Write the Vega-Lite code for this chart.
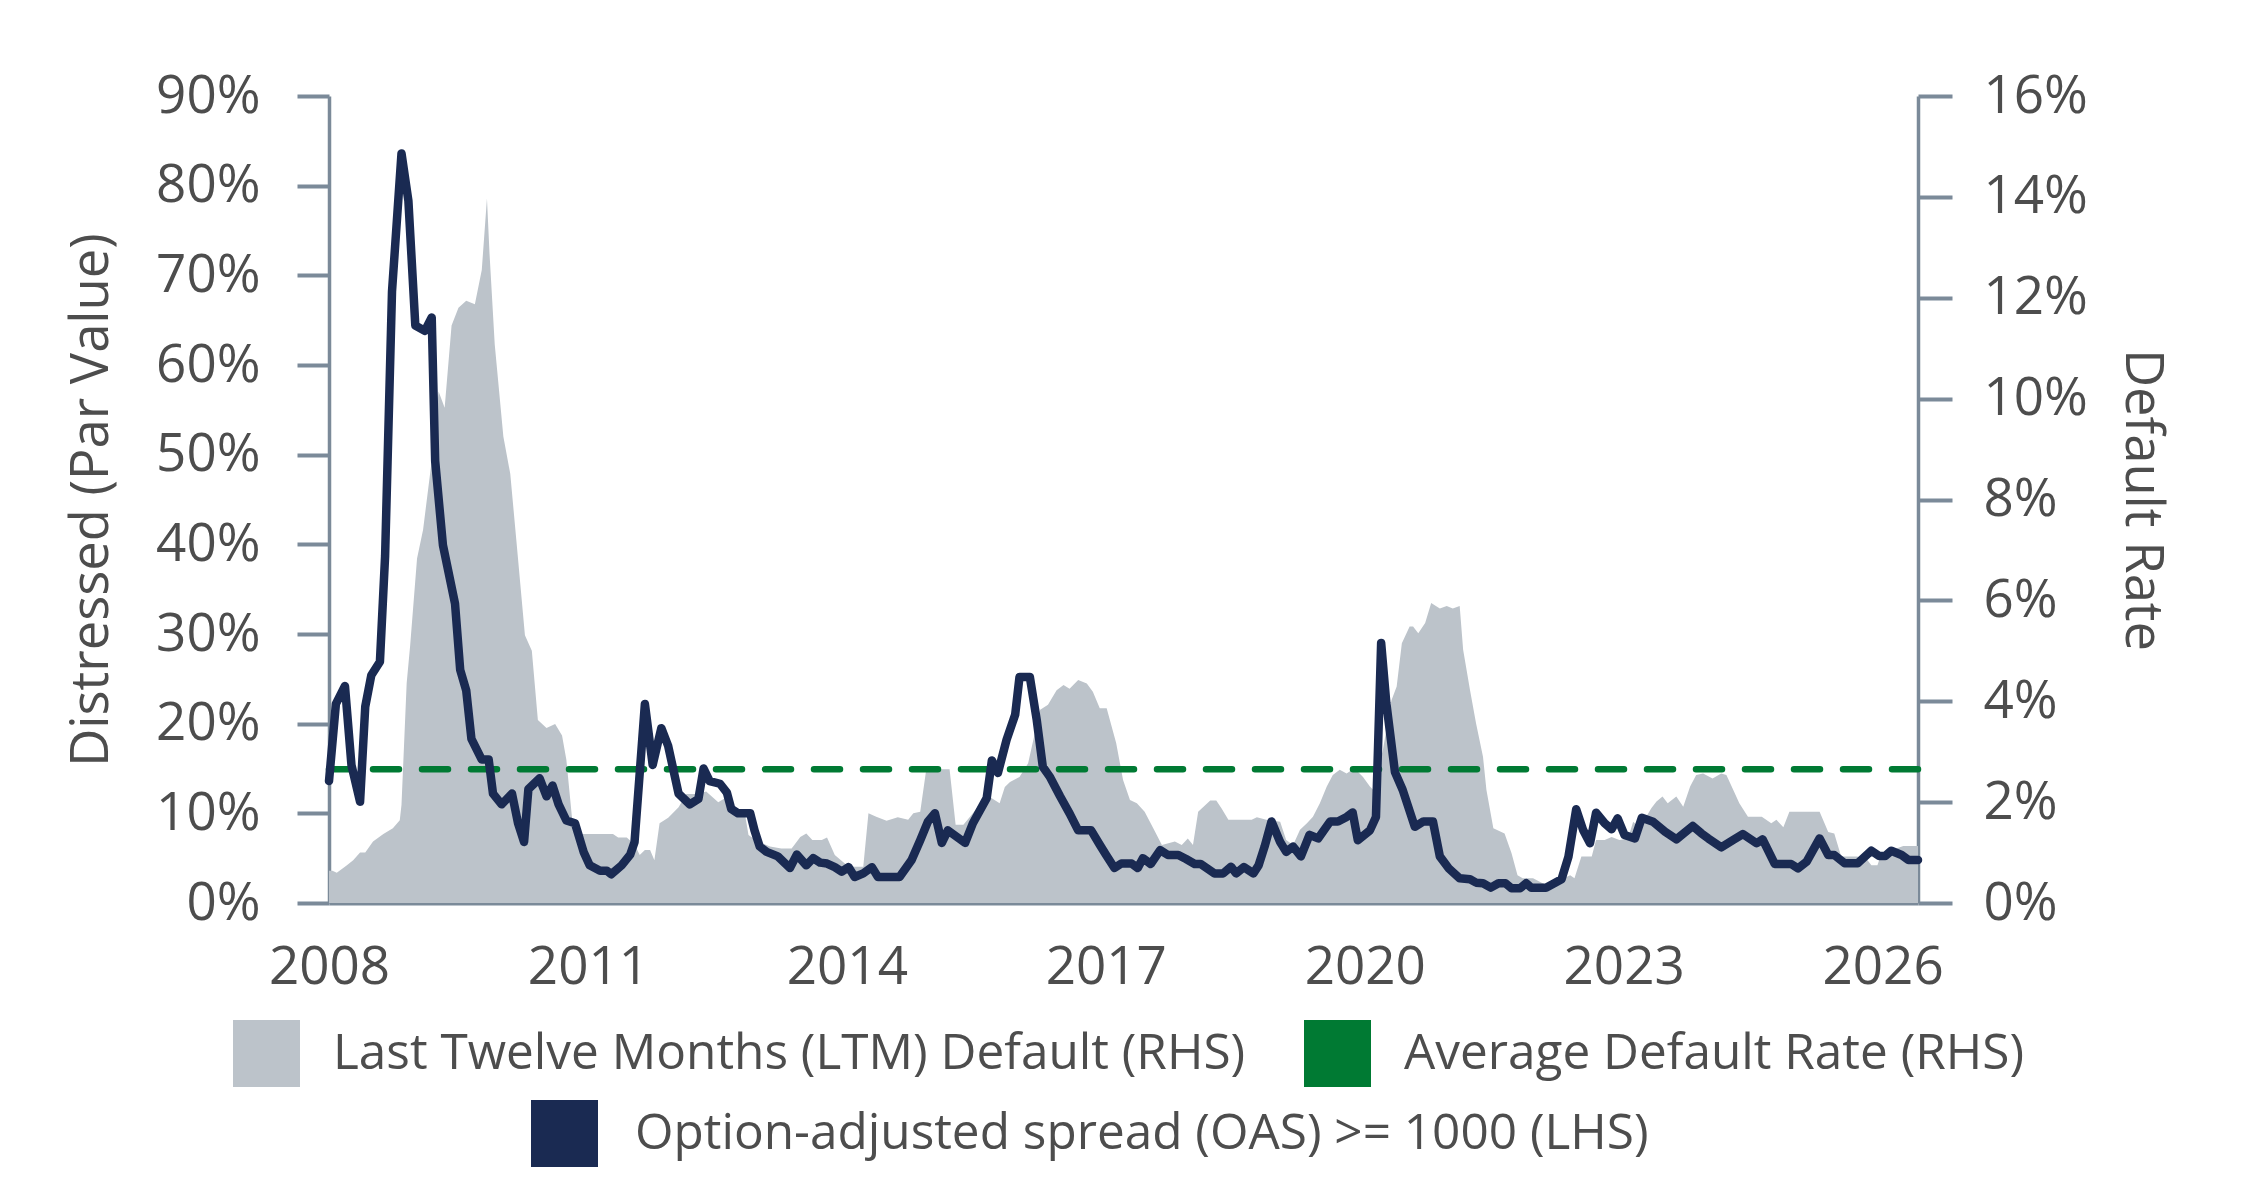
{
  "$schema": "https://vega.github.io/schema/vega-lite/v6.json",
  "description": "Distressed share (OAS >= 1000) against the LTM default rate, 2008-2026",
  "width": 1589,
  "height": 807,
  "padding": {"left": 65, "top": 70, "right": 40, "bottom": 5},
  "background": "white",
  "config": {
    "view": {"stroke": null},
    "font": "Open Sans",
    "axis": {
      "labelFont": "Open Sans",
      "titleFont": "Open Sans",
      "labelColor": "#4d4d4d",
      "titleColor": "#4d4d4d",
      "labelFontSize": 53,
      "titleFontSize": 52.5,
      "titleFontWeight": "normal",
      "domainColor": "#7b8a99",
      "tickColor": "#7b8a99",
      "domainWidth": 3.5,
      "tickWidth": 4,
      "grid": false
    },
    "legend": {
      "labelFont": "Open Sans",
      "labelFontSize": 49.5,
      "labelColor": "#4d4d4d",
      "labelLimit": 2000,
      "padding": 0
    }
  },
  "datasets": {
    "ltm": [
      {"year": 2008.0, "rate": 0.64}, {"year": 2008.04, "rate": 0.64}, {"year": 2008.09, "rate": 0.6},
      {"year": 2008.2, "rate": 0.74}, {"year": 2008.28, "rate": 0.85}, {"year": 2008.36, "rate": 1.0},
      {"year": 2008.42, "rate": 1.0}, {"year": 2008.51, "rate": 1.22}, {"year": 2008.63, "rate": 1.37},
      {"year": 2008.74, "rate": 1.48}, {"year": 2008.82, "rate": 1.64}, {"year": 2008.84, "rate": 1.95},
      {"year": 2008.9, "rate": 4.36}, {"year": 2008.94, "rate": 5.1}, {"year": 2009.02, "rate": 6.83},
      {"year": 2009.09, "rate": 7.4}, {"year": 2009.19, "rate": 8.77}, {"year": 2009.27, "rate": 10.14},
      {"year": 2009.34, "rate": 9.82}, {"year": 2009.42, "rate": 11.45}, {"year": 2009.5, "rate": 11.8},
      {"year": 2009.59, "rate": 11.94}, {"year": 2009.69, "rate": 11.87}, {"year": 2009.77, "rate": 12.55},
      {"year": 2009.83, "rate": 13.97}, {"year": 2009.86, "rate": 12.87}, {"year": 2009.92, "rate": 11.08},
      {"year": 2010.02, "rate": 9.25}, {"year": 2010.1, "rate": 8.51}, {"year": 2010.17, "rate": 7.2},
      {"year": 2010.27, "rate": 5.31}, {"year": 2010.35, "rate": 5.0}, {"year": 2010.42, "rate": 3.63},
      {"year": 2010.52, "rate": 3.47}, {"year": 2010.62, "rate": 3.55}, {"year": 2010.7, "rate": 3.32},
      {"year": 2010.75, "rate": 2.84}, {"year": 2010.83, "rate": 1.43}, {"year": 2010.89, "rate": 1.37},
      {"year": 2011.29, "rate": 1.37}, {"year": 2011.35, "rate": 1.3}, {"year": 2011.45, "rate": 1.3},
      {"year": 2011.54, "rate": 1.16}, {"year": 2011.6, "rate": 0.95}, {"year": 2011.66, "rate": 1.05},
      {"year": 2011.72, "rate": 1.05}, {"year": 2011.77, "rate": 0.85}, {"year": 2011.83, "rate": 1.58},
      {"year": 2011.93, "rate": 1.69}, {"year": 2012.05, "rate": 1.9}, {"year": 2012.14, "rate": 2.16},
      {"year": 2012.26, "rate": 2.16}, {"year": 2012.37, "rate": 2.21}, {"year": 2012.51, "rate": 2.0},
      {"year": 2012.61, "rate": 2.1}, {"year": 2012.74, "rate": 1.81}, {"year": 2012.82, "rate": 1.76},
      {"year": 2012.86, "rate": 1.35}, {"year": 2012.97, "rate": 1.22}, {"year": 2013.11, "rate": 1.12},
      {"year": 2013.24, "rate": 1.08}, {"year": 2013.36, "rate": 1.08}, {"year": 2013.46, "rate": 1.31},
      {"year": 2013.53, "rate": 1.38}, {"year": 2013.6, "rate": 1.25}, {"year": 2013.71, "rate": 1.25},
      {"year": 2013.77, "rate": 1.3}, {"year": 2013.86, "rate": 0.95}, {"year": 2014.0, "rate": 0.75},
      {"year": 2014.09, "rate": 0.72}, {"year": 2014.19, "rate": 0.72}, {"year": 2014.25, "rate": 1.78},
      {"year": 2014.34, "rate": 1.71}, {"year": 2014.46, "rate": 1.63}, {"year": 2014.59, "rate": 1.7},
      {"year": 2014.71, "rate": 1.65}, {"year": 2014.77, "rate": 1.78}, {"year": 2014.85, "rate": 1.81},
      {"year": 2014.92, "rate": 2.65}, {"year": 2015.19, "rate": 2.65}, {"year": 2015.26, "rate": 1.55},
      {"year": 2015.35, "rate": 1.55}, {"year": 2015.46, "rate": 1.78}, {"year": 2015.62, "rate": 2.14},
      {"year": 2015.77, "rate": 1.98}, {"year": 2015.83, "rate": 2.3}, {"year": 2015.89, "rate": 2.4},
      {"year": 2016.0, "rate": 2.5}, {"year": 2016.1, "rate": 2.77}, {"year": 2016.16, "rate": 3.23},
      {"year": 2016.24, "rate": 3.83}, {"year": 2016.33, "rate": 3.93}, {"year": 2016.43, "rate": 4.22},
      {"year": 2016.51, "rate": 4.32}, {"year": 2016.58, "rate": 4.25}, {"year": 2016.68, "rate": 4.42},
      {"year": 2016.78, "rate": 4.35}, {"year": 2016.85, "rate": 4.19}, {"year": 2016.93, "rate": 3.86},
      {"year": 2017.01, "rate": 3.86}, {"year": 2017.12, "rate": 3.17}, {"year": 2017.2, "rate": 2.44},
      {"year": 2017.28, "rate": 2.04}, {"year": 2017.36, "rate": 1.98}, {"year": 2017.45, "rate": 1.81},
      {"year": 2017.55, "rate": 1.48}, {"year": 2017.65, "rate": 1.15}, {"year": 2017.8, "rate": 1.22},
      {"year": 2017.88, "rate": 1.15}, {"year": 2017.95, "rate": 1.28}, {"year": 2018.01, "rate": 1.15},
      {"year": 2018.07, "rate": 1.81}, {"year": 2018.21, "rate": 2.03}, {"year": 2018.28, "rate": 2.03},
      {"year": 2018.34, "rate": 1.88}, {"year": 2018.42, "rate": 1.65}, {"year": 2018.69, "rate": 1.65},
      {"year": 2018.75, "rate": 1.7}, {"year": 2018.86, "rate": 1.65}, {"year": 2019.02, "rate": 1.61},
      {"year": 2019.09, "rate": 1.25}, {"year": 2019.17, "rate": 1.15}, {"year": 2019.25, "rate": 1.45},
      {"year": 2019.33, "rate": 1.58}, {"year": 2019.4, "rate": 1.71}, {"year": 2019.48, "rate": 1.98},
      {"year": 2019.56, "rate": 2.31}, {"year": 2019.63, "rate": 2.54}, {"year": 2019.71, "rate": 2.64},
      {"year": 2019.79, "rate": 2.57}, {"year": 2019.88, "rate": 2.67}, {"year": 2019.98, "rate": 2.5},
      {"year": 2020.06, "rate": 2.31}, {"year": 2020.1, "rate": 2.24}, {"year": 2020.21, "rate": 3.03},
      {"year": 2020.31, "rate": 4.02}, {"year": 2020.37, "rate": 4.29}, {"year": 2020.43, "rate": 5.15},
      {"year": 2020.52, "rate": 5.48}, {"year": 2020.56, "rate": 5.48}, {"year": 2020.62, "rate": 5.35},
      {"year": 2020.7, "rate": 5.55}, {"year": 2020.77, "rate": 5.95}, {"year": 2020.87, "rate": 5.84},
      {"year": 2020.95, "rate": 5.89}, {"year": 2021.02, "rate": 5.84}, {"year": 2021.1, "rate": 5.89},
      {"year": 2021.14, "rate": 5.02}, {"year": 2021.22, "rate": 4.22}, {"year": 2021.29, "rate": 3.56},
      {"year": 2021.37, "rate": 2.9}, {"year": 2021.41, "rate": 2.24}, {"year": 2021.49, "rate": 1.48},
      {"year": 2021.62, "rate": 1.38}, {"year": 2021.7, "rate": 0.99}, {"year": 2021.77, "rate": 0.55},
      {"year": 2021.83, "rate": 0.49}, {"year": 2021.95, "rate": 0.49}, {"year": 2022.05, "rate": 0.4},
      {"year": 2022.1, "rate": 0.36}, {"year": 2022.18, "rate": 0.4}, {"year": 2022.28, "rate": 0.47},
      {"year": 2022.38, "rate": 0.55}, {"year": 2022.43, "rate": 0.49}, {"year": 2022.51, "rate": 0.92},
      {"year": 2022.63, "rate": 0.92}, {"year": 2022.68, "rate": 1.25}, {"year": 2022.78, "rate": 1.25},
      {"year": 2022.86, "rate": 1.31}, {"year": 2022.95, "rate": 1.25}, {"year": 2023.05, "rate": 1.28},
      {"year": 2023.11, "rate": 1.61}, {"year": 2023.17, "rate": 1.51}, {"year": 2023.24, "rate": 1.65},
      {"year": 2023.32, "rate": 1.88}, {"year": 2023.38, "rate": 2.01}, {"year": 2023.45, "rate": 2.11},
      {"year": 2023.51, "rate": 1.98}, {"year": 2023.61, "rate": 2.11}, {"year": 2023.69, "rate": 1.91},
      {"year": 2023.77, "rate": 2.31}, {"year": 2023.84, "rate": 2.54}, {"year": 2023.92, "rate": 2.57},
      {"year": 2024.03, "rate": 2.47}, {"year": 2024.13, "rate": 2.57}, {"year": 2024.19, "rate": 2.54},
      {"year": 2024.27, "rate": 2.24}, {"year": 2024.34, "rate": 1.98}, {"year": 2024.44, "rate": 1.71},
      {"year": 2024.6, "rate": 1.71}, {"year": 2024.71, "rate": 1.58}, {"year": 2024.77, "rate": 1.65},
      {"year": 2024.85, "rate": 1.5}, {"year": 2024.92, "rate": 1.81}, {"year": 2025.27, "rate": 1.81},
      {"year": 2025.37, "rate": 1.41}, {"year": 2025.44, "rate": 1.38}, {"year": 2025.52, "rate": 0.92},
      {"year": 2025.7, "rate": 0.92}, {"year": 2025.81, "rate": 0.88}, {"year": 2025.87, "rate": 0.75},
      {"year": 2025.94, "rate": 0.75}, {"year": 2025.98, "rate": 0.95}, {"year": 2026.06, "rate": 1.02},
      {"year": 2026.24, "rate": 1.13}, {"year": 2026.41, "rate": 1.13}
    ],
    "oas": [
      {"year": 2008.0, "share": 13.6}, {"year": 2008.08, "share": 22.2}, {"year": 2008.185, "share": 24.2},
      {"year": 2008.26, "share": 15.4}, {"year": 2008.36, "share": 11.3}, {"year": 2008.42, "share": 21.9},
      {"year": 2008.49, "share": 25.4}, {"year": 2008.59, "share": 26.9}, {"year": 2008.65, "share": 38.7},
      {"year": 2008.73, "share": 68.2}, {"year": 2008.84, "share": 83.6}, {"year": 2008.92, "share": 78.3},
      {"year": 2009.0, "share": 64.4}, {"year": 2009.11, "share": 63.8}, {"year": 2009.19, "share": 65.3},
      {"year": 2009.23, "share": 49.3}, {"year": 2009.32, "share": 39.9}, {"year": 2009.46, "share": 33.4},
      {"year": 2009.52, "share": 26.0}, {"year": 2009.59, "share": 23.7}, {"year": 2009.65, "share": 18.3},
      {"year": 2009.77, "share": 16.0}, {"year": 2009.85, "share": 16.0}, {"year": 2009.9, "share": 12.2},
      {"year": 2010.0, "share": 11.0}, {"year": 2010.12, "share": 12.2}, {"year": 2010.19, "share": 8.9},
      {"year": 2010.26, "share": 6.8}, {"year": 2010.31, "share": 12.7}, {"year": 2010.44, "share": 13.9},
      {"year": 2010.52, "share": 11.9}, {"year": 2010.59, "share": 13.1}, {"year": 2010.66, "share": 11.0},
      {"year": 2010.75, "share": 9.2}, {"year": 2010.85, "share": 8.9}, {"year": 2010.95, "share": 5.7},
      {"year": 2011.02, "share": 4.2}, {"year": 2011.14, "share": 3.6}, {"year": 2011.22, "share": 3.6},
      {"year": 2011.27, "share": 3.2}, {"year": 2011.39, "share": 4.2}, {"year": 2011.49, "share": 5.4},
      {"year": 2011.54, "share": 6.8}, {"year": 2011.66, "share": 22.2}, {"year": 2011.75, "share": 15.4},
      {"year": 2011.85, "share": 19.5}, {"year": 2011.93, "share": 17.5}, {"year": 2012.05, "share": 12.2},
      {"year": 2012.18, "share": 11.0}, {"year": 2012.28, "share": 11.6}, {"year": 2012.34, "share": 15.0},
      {"year": 2012.41, "share": 13.6}, {"year": 2012.53, "share": 13.3}, {"year": 2012.61, "share": 12.3},
      {"year": 2012.66, "share": 10.5}, {"year": 2012.74, "share": 10.0}, {"year": 2012.88, "share": 10.0},
      {"year": 2012.93, "share": 8.1}, {"year": 2012.99, "share": 6.3}, {"year": 2013.07, "share": 5.7},
      {"year": 2013.2, "share": 5.2}, {"year": 2013.34, "share": 3.9}, {"year": 2013.42, "share": 5.4},
      {"year": 2013.53, "share": 4.2}, {"year": 2013.61, "share": 5.0}, {"year": 2013.69, "share": 4.5},
      {"year": 2013.77, "share": 4.4}, {"year": 2013.86, "share": 4.0}, {"year": 2013.94, "share": 3.5},
      {"year": 2014.02, "share": 4.0}, {"year": 2014.09, "share": 2.9}, {"year": 2014.19, "share": 3.3},
      {"year": 2014.29, "share": 4.0}, {"year": 2014.36, "share": 2.9}, {"year": 2014.61, "share": 2.9},
      {"year": 2014.75, "share": 4.8}, {"year": 2014.85, "share": 7.0}, {"year": 2014.94, "share": 9.1},
      {"year": 2015.02, "share": 10.0}, {"year": 2015.1, "share": 6.7}, {"year": 2015.17, "share": 8.1},
      {"year": 2015.37, "share": 6.7}, {"year": 2015.46, "share": 8.9}, {"year": 2015.62, "share": 11.7},
      {"year": 2015.68, "share": 15.9}, {"year": 2015.75, "share": 14.5}, {"year": 2015.85, "share": 18.2},
      {"year": 2015.95, "share": 21.0}, {"year": 2016.0, "share": 25.2}, {"year": 2016.12, "share": 25.2},
      {"year": 2016.2, "share": 20.4}, {"year": 2016.27, "share": 15.2}, {"year": 2016.35, "share": 14.1},
      {"year": 2016.47, "share": 11.9}, {"year": 2016.58, "share": 10.0}, {"year": 2016.68, "share": 8.1},
      {"year": 2016.83, "share": 8.1}, {"year": 2016.93, "share": 6.5}, {"year": 2017.0, "share": 5.4},
      {"year": 2017.1, "share": 3.9}, {"year": 2017.18, "share": 4.4}, {"year": 2017.3, "share": 4.4},
      {"year": 2017.37, "share": 3.9}, {"year": 2017.43, "share": 5.0}, {"year": 2017.52, "share": 4.35},
      {"year": 2017.63, "share": 5.9}, {"year": 2017.72, "share": 5.35}, {"year": 2017.84, "share": 5.35},
      {"year": 2017.93, "share": 4.9}, {"year": 2018.03, "share": 4.35}, {"year": 2018.1, "share": 4.35},
      {"year": 2018.26, "share": 3.3}, {"year": 2018.36, "share": 3.3}, {"year": 2018.45, "share": 4.05},
      {"year": 2018.51, "share": 3.3}, {"year": 2018.6, "share": 4.0}, {"year": 2018.71, "share": 3.3},
      {"year": 2018.77, "share": 4.2}, {"year": 2018.84, "share": 6.3}, {"year": 2018.92, "share": 9.1},
      {"year": 2019.02, "share": 6.8}, {"year": 2019.09, "share": 5.7}, {"year": 2019.17, "share": 6.3},
      {"year": 2019.26, "share": 5.2}, {"year": 2019.36, "share": 7.6}, {"year": 2019.46, "share": 7.2},
      {"year": 2019.6, "share": 9.1}, {"year": 2019.69, "share": 9.1}, {"year": 2019.79, "share": 9.6},
      {"year": 2019.86, "share": 10.1}, {"year": 2019.92, "share": 7.0}, {"year": 2020.06, "share": 8.1},
      {"year": 2020.13, "share": 9.6}, {"year": 2020.19, "share": 29.0}, {"year": 2020.25, "share": 22.3},
      {"year": 2020.35, "share": 14.6}, {"year": 2020.44, "share": 12.6}, {"year": 2020.58, "share": 8.5},
      {"year": 2020.68, "share": 9.1}, {"year": 2020.79, "share": 9.1}, {"year": 2020.87, "share": 5.2},
      {"year": 2020.97, "share": 3.9}, {"year": 2021.1, "share": 2.75}, {"year": 2021.22, "share": 2.64},
      {"year": 2021.29, "share": 2.27}, {"year": 2021.37, "share": 2.2}, {"year": 2021.46, "share": 1.71},
      {"year": 2021.55, "share": 2.2}, {"year": 2021.63, "share": 2.2}, {"year": 2021.7, "share": 1.64},
      {"year": 2021.8, "share": 1.64}, {"year": 2021.87, "share": 2.2}, {"year": 2021.93, "share": 1.71},
      {"year": 2022.1, "share": 1.71}, {"year": 2022.18, "share": 2.12}, {"year": 2022.28, "share": 2.64},
      {"year": 2022.36, "share": 5.16}, {"year": 2022.45, "share": 10.45}, {"year": 2022.53, "share": 8.14},
      {"year": 2022.61, "share": 6.66}, {"year": 2022.68, "share": 10.07}, {"year": 2022.78, "share": 8.89},
      {"year": 2022.86, "share": 8.22}, {"year": 2022.93, "share": 9.44}, {"year": 2023.01, "share": 7.58},
      {"year": 2023.13, "share": 7.2}, {"year": 2023.21, "share": 9.51}, {"year": 2023.34, "share": 9.07},
      {"year": 2023.48, "share": 7.95}, {"year": 2023.61, "share": 7.1}, {"year": 2023.8, "share": 8.59},
      {"year": 2023.9, "share": 7.77}, {"year": 2023.98, "share": 7.2}, {"year": 2024.13, "share": 6.21},
      {"year": 2024.27, "share": 7.03}, {"year": 2024.38, "share": 7.69}, {"year": 2024.54, "share": 6.66},
      {"year": 2024.61, "share": 7.1}, {"year": 2024.75, "share": 4.35}, {"year": 2024.94, "share": 4.35},
      {"year": 2025.02, "share": 3.87}, {"year": 2025.12, "share": 4.61}, {"year": 2025.27, "share": 7.2},
      {"year": 2025.37, "share": 5.35}, {"year": 2025.44, "share": 5.35}, {"year": 2025.56, "share": 4.43},
      {"year": 2025.71, "share": 4.43}, {"year": 2025.87, "share": 5.83}, {"year": 2025.96, "share": 5.24},
      {"year": 2026.03, "share": 5.24}, {"year": 2026.1, "share": 5.83}, {"year": 2026.22, "share": 5.35},
      {"year": 2026.3, "share": 4.8}, {"year": 2026.41, "share": 4.8}
    ],
    "average": [
      {"avg": 2.65}
    ]
  },
  "layer": [
    {
      "layer": [
        {
          "data": {"name": "ltm"},
          "mark": {"type": "area", "interpolate": "linear", "opacity": 1},
          "encoding": {
            "x": {
              "field": "year",
              "type": "quantitative",
              "scale": {"domain": [2008, 2026.41], "nice": false, "zero": false},
              "axis": {
                "title": null,
                "values": [2008, 2011, 2014, 2017, 2020, 2023, 2026],
                "format": "d",
                "ticks": false,
                "tickSize": 0,
                "labelPadding": 38,
                "domainWidth": 4,
                "labelFlush": false
              }
            },
            "y": {
              "field": "rate",
              "type": "quantitative",
              "scale": {"domain": [0, 16], "nice": false},
              "axis": {
                "orient": "right",
                "title": "Default Rate",
                "values": [0, 2, 4, 6, 8, 10, 12, 14, 16],
                "labelExpr": "datum.value + '%'",
                "tickSize": 34,
                "labelPadding": 31,
                "titlePadding": 27
              }
            },
            "color": {
              "datum": "Last Twelve Months (LTM) Default (RHS)",
              "scale": {
                "domain": ["Last Twelve Months (LTM) Default (RHS)", "Average Default Rate (RHS)"],
                "range": ["#bcc3ca", "#007a33"]
              },
              "legend": {
                "title": null,
                "orient": "none",
                "legendX": -96,
                "legendY": 924,
                "direction": "horizontal",
                "symbolType": "square",
                "symbolSize": 4489,
                "symbolStrokeWidth": 0,
                "symbolOpacity": 1,
                "labelOffset": 33,
                "columnPadding": 58,
                "encode": {
                  "symbols": {"update": {"fill": {"scale": "color", "field": "value"}, "opacity": {"value": 1}}}
                }
              }
            }
          }
        },
        {
          "data": {"name": "average"},
          "mark": {"type": "rule", "strokeWidth": 6.5, "strokeDash": [26, 23], "strokeCap": "round"},
          "encoding": {
            "y": {"field": "avg", "type": "quantitative"},
            "color": {"datum": "Average Default Rate (RHS)"}
          }
        }
      ]
    },
    {
      "data": {"name": "oas"},
      "mark": {"type": "line", "strokeWidth": 8.5, "strokeJoin": "round", "strokeCap": "round"},
      "encoding": {
        "x": {"field": "year", "type": "quantitative"},
        "y": {
          "field": "share",
          "type": "quantitative",
          "scale": {"domain": [0, 90], "nice": false},
          "axis": {
            "orient": "left",
            "title": "Distressed (Par Value)",
            "values": [0, 10, 20, 30, 40, 50, 60, 70, 80, 90],
            "labelExpr": "datum.value + '%'",
            "tickSize": 32,
            "labelPadding": 37,
            "titlePadding": 37
          }
        },
        "stroke": {
          "datum": "Option-adjusted spread (OAS) >= 1000 (LHS)",
          "scale": {"range": ["#1a2a52"]},
          "legend": {
            "title": null,
            "orient": "none",
            "legendX": 202,
            "legendY": 1004,
            "symbolType": "square",
            "symbolSize": 4489,
            "symbolStrokeWidth": 0,
            "symbolFillColor": "#1a2a52",
            "symbolOpacity": 1,
            "labelOffset": 37,
            "encode": {
              "symbols": {"update": {"fill": {"value": "#1a2a52"}, "opacity": {"value": 1}}}
            }
          }
        }
      }
    }
  ],
  "resolve": {"scale": {"y": "independent"}}
}
